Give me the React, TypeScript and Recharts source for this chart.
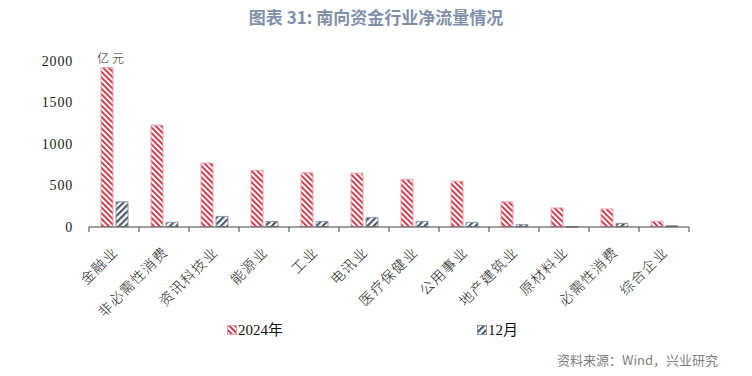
import React from 'react';
import { BarChart, Bar, XAxis, YAxis } from 'recharts';

const SECTORS = ['金融业', '非必需性消费', '资讯科技业', '能源业', '工业', '电讯业', '医疗保健业', '公用事业', '地产建筑业', '原材料业', '必需性消费', '综合企业'];
const FLOW_2024 = [1920, 1225, 768, 680, 650, 645, 571, 548, 300, 226, 213, 64];
const FLOW_DEC = [300, 52, 124, 64, 64, 112, 64, 52, 24, -4, 40, 12];
const Y_TICKS = [0, 500, 1000, 1500, 2000];

const data = SECTORS.map((name, i) => ({ name, y2024: FLOW_2024[i], dec: FLOW_DEC[i] }));

const RED = '#d0404f';
const NAVY = '#44546a';
const SERIF = '"Liberation Serif", "Noto Sans CJK SC", serif';
const CJK = '"Noto Sans CJK SC", sans-serif';

const BAND = 50;

const CategoryTick = (props: any) => {
  const { x, y, payload, index } = props;
  const last = index === SECTORS.length - 1;
  const ax = x + 5;
  const ay = y + 26;
  return (
    <g>
      <line x1={x - BAND / 2} x2={x - BAND / 2} y1={y} y2={y + 5} stroke="#404040" />
      {last && <line x1={x + BAND / 2} x2={x + BAND / 2} y1={y} y2={y + 5} stroke="#404040" />}
      <text x={ax} y={ay} transform={`rotate(-45, ${ax}, ${ay})`} textAnchor="end"
        fontSize={14} letterSpacing={1.3} fill="#222" fontFamily={CJK} fontWeight={300}>
        {payload.value}
      </text>
    </g>
  );
};

const Swatch = ({ id, border }: { id: string; border: string }) => (
  <svg width={10} height={10} style={{ verticalAlign: 'middle', marginRight: 1, marginTop: -3 }}>
    <rect x={0.5} y={0.5} width={9} height={9} fill={`url(#${id})`} stroke={border} />
  </svg>
);

export default function App() {
  return (
    <div style={{ position: 'absolute', left: 0, top: 0, width: 752, height: 376, background: '#fff' }}>
      <svg width={0} height={0} style={{ position: 'absolute' }}>
        <defs>
          <pattern id="hatchRed" patternUnits="userSpaceOnUse" width={4} height={4} patternTransform="rotate(-45)">
            <rect width={4} height={4} fill="#fff" />
            <line x1={1} y1={0} x2={1} y2={4} stroke={RED} strokeWidth={2} />
          </pattern>
          <pattern id="hatchNavy" patternUnits="userSpaceOnUse" width={4.5} height={4.5} patternTransform="rotate(45)">
            <rect width={4.5} height={4.5} fill="#fff" />
            <line x1={1} y1={0} x2={1} y2={4.5} stroke={NAVY} strokeWidth={2.2} />
          </pattern>
        </defs>
      </svg>

      <div style={{ position: 'absolute', top: 4, width: 752, textAlign: 'center', fontFamily: CJK, fontWeight: 700, fontSize: 17, color: '#8090a8' }}>
        图表 31: 南向资金行业净流量情况
      </div>
      <div style={{ position: 'absolute', left: 97, top: 49, fontFamily: CJK, fontSize: 12, letterSpacing: 3, fontWeight: 300, color: '#222' }}>亿元</div>

      <BarChart width={752} height={376} data={data} margin={{ top: 61, right: 63, left: 0, bottom: 0 }}
        barSize={12} barGap={3}>
        <XAxis dataKey="name" height={149} axisLine={{ stroke: '#404040' }} tickLine={false}
          tickSize={0} tickMargin={0} interval={0} tick={<CategoryTick />} />
        <YAxis width={89} domain={[0, 2000]} ticks={Y_TICKS} axisLine={false} tickLine={false}
          tickMargin={10} tick={{ fontSize: 14, fill: '#222', fontFamily: SERIF, letterSpacing: 0.8 }} />
        <Bar dataKey="y2024" fill="url(#hatchRed)" stroke="#e9a3ab" strokeWidth={1} isAnimationActive={false} />
        <Bar dataKey="dec" fill="url(#hatchNavy)" stroke="#8a97a8" strokeWidth={1} isAnimationActive={false} />
      </BarChart>

      <div style={{ position: 'absolute', left: 227, top: 318, fontFamily: SERIF, fontSize: 15, color: '#111' }}>
        <Swatch id="hatchRed" border="#e9a3ab" />2024年
      </div>
      <div style={{ position: 'absolute', left: 477, top: 318, fontFamily: SERIF, fontSize: 15, color: '#111' }}>
        <Swatch id="hatchNavy" border="#8a97a8" />12月
      </div>
      <div style={{ position: 'absolute', right: 34, top: 350, fontFamily: CJK, fontSize: 13, color: '#808080' }}>
        资料来源：Wind，兴业研究
      </div>
    </div>
  );
}
